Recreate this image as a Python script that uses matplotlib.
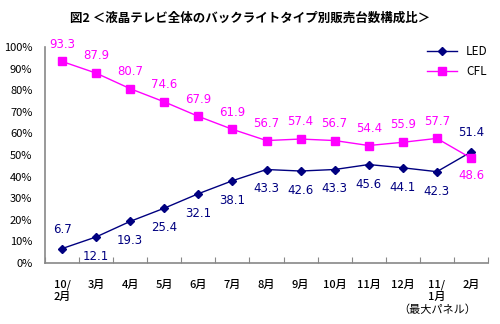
import matplotlib
matplotlib.use("Agg")
import matplotlib.pyplot as plt

plt.rcParams['font.family'] = ['Noto Sans CJK JP', 'DejaVu Sans']

# data
months = ["10/\n2月", "3月", "4月", "5月", "6月", "7月", "8月", "9月",
          "10月", "11月", "12月", "11/\n1月", "2月"]
note = "（最大パネル）"
note_idx = 11
led = [6.7, 12.1, 19.3, 25.4, 32.1, 38.1, 43.3, 42.6, 43.3, 45.6, 44.1, 42.3, 51.4]
cfl = [93.3, 87.9, 80.7, 74.6, 67.9, 61.9, 56.7, 57.4, 56.7, 54.4, 55.9, 57.7, 48.6]
led_above = [True] + [False] * 11 + [True]
cfl_above = [True] * 12 + [False]

navy = "#000080"
magenta = "#FF00FF"

fig = plt.figure(figsize=(5, 3.24), dpi=100)
ax = fig.add_axes([0.09, 0.188, 0.886, 0.667])

x = list(range(len(months)))
ax.plot(x, led, color=navy, lw=1, marker="D", ms=4, label="LED")
ax.plot(x, cfl, color=magenta, lw=1, marker="s", ms=5.5, label="CFL")

for i in x:
    dy = 6 if led_above[i] else -6
    ax.text(i, led[i] + dy, f"{led[i]:.1f}", color=navy, fontsize=8.5,
            ha="center", va="bottom" if led_above[i] else "top", family=["DejaVu Sans"])
    dy = 5 if cfl_above[i] else -5
    ax.text(i, cfl[i] + dy, f"{cfl[i]:.1f}", color=magenta, fontsize=8.5,
            ha="center", va="bottom" if cfl_above[i] else "top", family=["DejaVu Sans"])

ax.set_xlim(-0.5, len(months) - 0.5)
ax.set_ylim(0, 100)
ax.set_yticks(range(0, 101, 10))
ax.set_yticklabels([f"{v}%" for v in range(0, 101, 10)], fontsize=8)
ax.set_xticks([i + 0.5 for i in range(-1, len(months))])
ax.set_xticklabels([])
ax.set_xticks(x, minor=True)
ax.set_xticklabels(months, minor=True, fontsize=8, linespacing=1.15, va="top")
ax.tick_params(axis="x", which="major", direction="in", length=4, color="#888888")
ax.tick_params(axis="x", which="minor", length=0, pad=12)
ax.tick_params(axis="y", length=0, pad=9)
for lbl in ax.get_xticklabels(minor=True):
    lbl.set_fontweight("medium")

# note under the 11/1月 label
ax.annotate(note, xy=(note_idx, 0), xycoords=("data", "axes fraction"),
            xytext=(0, -30), textcoords="offset points", ha="center", va="top",
            fontsize=8, annotation_clip=False)

for s in ["top", "right"]:
    ax.spines[s].set_visible(False)
for s in ["left", "bottom"]:
    ax.spines[s].set_color("#888888")
    ax.spines[s].set_linewidth(1.2)

ax.legend(loc="upper right", bbox_to_anchor=(1.01, 1.03), frameon=False,
          fontsize=8.5, handlelength=2.5, borderaxespad=0, labelspacing=0.6)

fig.text(0.5, 0.945, "図2 ＜液晶テレビ全体のバックライトタイプ別販売台数構成比＞",
         ha="center", va="center", fontsize=9, fontweight="bold")

fig.savefig("out.png", dpi=100)
